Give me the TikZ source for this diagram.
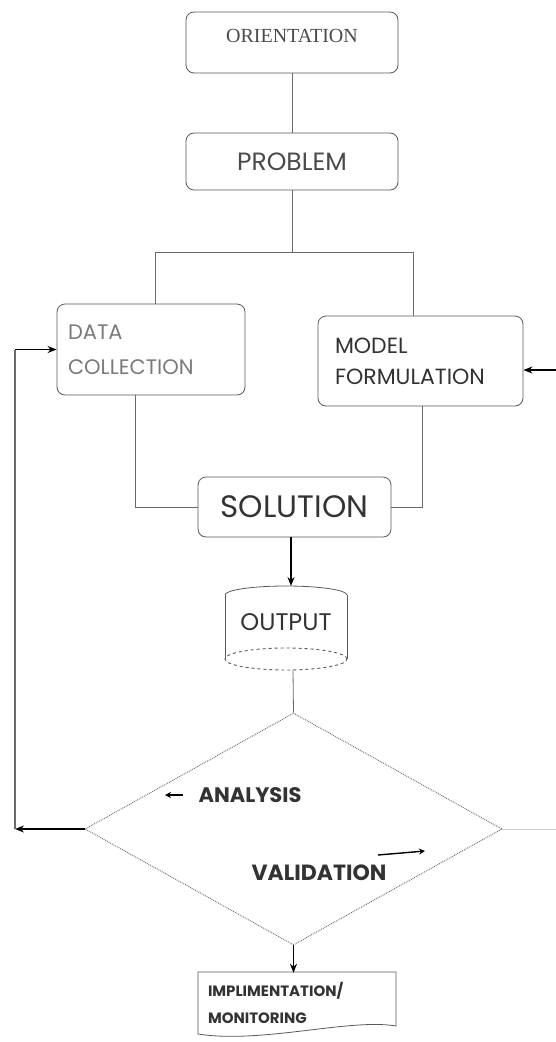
\documentclass[tikz,border=0pt]{standalone}
\usepackage{fontspec}
\usetikzlibrary{shapes.geometric,arrows.meta}
\newfontfamily\gothic{Poppins}
\newfontfamily\timesf{Liberation Serif}
\definecolor{boxgray}{HTML}{5A5A5A}
\definecolor{linegray}{HTML}{6A6A6A}
\definecolor{txtdark}{HTML}{333333}
\definecolor{txtmid}{HTML}{4A4A4A}
\definecolor{txtlight}{HTML}{7A7A7A}
\newcommand{\fs}[2]{\fontsize{#1}{#2}\selectfont}
\begin{document}
\begin{tikzpicture}[x=1pt,y=-1pt,
  box/.style={draw=boxgray, line width=0.8pt, rounded corners=8pt, inner sep=0pt},
  conn/.style={draw=linegray, line width=0.8pt},
  arr/.style={draw=black, line width=1.6pt, -{Stealth[length=9pt,width=7pt]}},
  smallarr/.style={draw=black, line width=1.4pt, -{Stealth[length=6pt,width=6pt]}},
  boldtxt/.style={font=\gothic\bfseries\fs{21}{25}, text=txtdark, inner sep=0pt},
]
\useasboundingbox (0,0) rectangle (556,1042);
\fill[white] (0,0) rectangle (556,1042);

% boxes
\node[box, minimum width=212pt, minimum height=61pt, font=\timesf\fs{20}{24}, text=txtmid] (orient) at (292,42.5) {\raisebox{14pt}{ORIENTATION}};
\node[box, minimum width=212pt, minimum height=57pt, font=\gothic\fs{25}{30}, text=txtmid] (problem) at (292,161.5) {PROBLEM};
\node[box, minimum width=188pt, minimum height=91pt, font=\gothic\fs{21}{35}, text=txtlight, align=left, text width=166pt] (data) at (151,349.5) {DATA\\COLLECTION};
\node[box, minimum width=205pt, minimum height=90pt, font=\gothic\fs{22}{36}, text=txtdark, align=left, text width=171pt] (model) at (420.5,361) {\raisebox{-5pt}{MODEL}\\FORMULATION};
\node[box, minimum width=193pt, minimum height=60pt, font=\gothic\fs{31}{36}, text=txtdark] (sol) at (294.5,507) {SOLUTION};

% output cylinder
\node[minimum width=122pt, minimum height=84pt, inner sep=0pt, font=\gothic\fs{24}{28}, text=txtdark] (out) at (286,628) {\raisebox{12pt}{OUTPUT}};
\draw[boxgray, line width=0.8pt] (225,595) -- (225,659);
\draw[boxgray, line width=0.8pt] (347,595) -- (347,659);
\draw[boxgray, line width=0.8pt] (225,595) arc[start angle=180, end angle=0, x radius=61pt, y radius=9pt];
\draw[boxgray, line width=0.9pt, dashed] (286,659) ellipse[x radius=61pt, y radius=11pt];

% diamond
\node[diamond, draw=linegray, line width=0.9pt, densely dotted, minimum width=417pt, minimum height=232pt, inner sep=0pt] (dia) at (293.5,829) {};

% implementation document
\node[minimum width=198pt, minimum height=60pt, inner sep=0pt, font=\gothic\bfseries\fs{15}{27}, text=txtdark, align=left, text width=178pt] (impl) at (297,1003) {IMPLIMENTATION/\\MONITORING};
\draw[boxgray, line width=0.8pt] (198,1034) -- (198,972) -- (396,972) -- (396,1026)
  .. controls (350,1018) and (262,1044) .. (198,1034);

% labels inside diamond
\node[boldtxt] (analysis) at (250,795) {ANALYSIS};
\node[boldtxt, font=\gothic\bfseries\fs{22}{26}] (valid) at (319,873) {VALIDATION};
\coordinate (aa1) at (183,795);
\coordinate (aa2) at (165,795);
\draw[smallarr] (aa1) -- (aa2);
\coordinate (va1) at (378,855);
\coordinate (va2) at (425,851);
\draw[smallarr] (va1) -- (va2);

% connectors
\draw[conn] (orient.south) -- (problem.north);
\coordinate (bar) at (292,252);
\coordinate (barL) at (155,252);
\coordinate (barR) at (413,252);
\draw[conn] (problem.south) -- (bar);
\draw[conn] (barL) -- (barR);
\draw[conn] (barL) -- (barL |- data.north);
\draw[conn] (barR) -- (barR |- model.north);
\coordinate (dL) at (135,0);
\coordinate (mR) at (422,0);
\draw[conn] (dL |- data.south) |- (sol.west);
\draw[conn] (mR |- model.south) |- (sol.east);
\draw[arr] (sol.south -| 291,0) -- (291,586);
\draw[conn] (293,670) -- (dia.north);
\draw[arr] (dia.south) -- (impl.north -| dia.south);

% feedback loop
\coordinate (fbB) at (15,829);
\coordinate (fbT) at (15,349.5);
\draw[arr] (dia.west) -- (fbB);
\draw[draw=linegray, line width=1.3pt] (fbB) -- (fbT);
\draw[arr] (fbT) -- (data.west);

% right side
\coordinate (rgt) at (556,829);
\draw[draw=gray!40, line width=0.6pt] (dia.east) -- (rgt);
\coordinate (mIn) at (556,370);
\draw[arr] (mIn) -- (mIn -| model.east);
\end{tikzpicture}
\end{document}
